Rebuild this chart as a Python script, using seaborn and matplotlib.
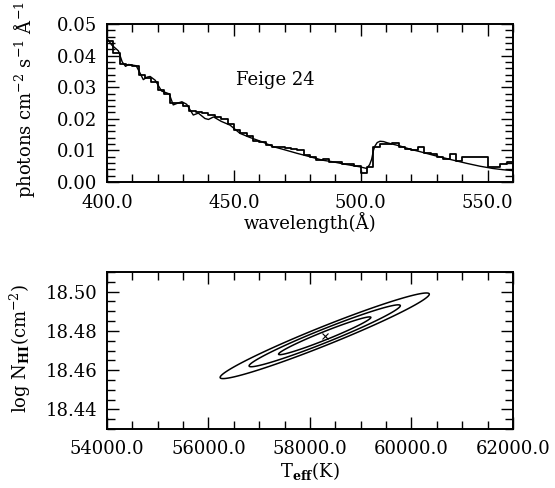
import numpy as np
import pandas as pd
import matplotlib
matplotlib.use("Agg")
import matplotlib.pyplot as plt
from matplotlib.ticker import MultipleLocator, FormatStrFormatter
import seaborn as sns

# ---- Feige 24 EUV spectrum: observed counts binned in 2.5 A steps ----
bin_start = 400.0
bin_width = 2.5
observed_flux = [
    0.0445, 0.0408, 0.0372, 0.0370, 0.0368, 0.0340, 0.0330, 0.0318,
    0.0290, 0.0278, 0.0250, 0.0250, 0.0240, 0.0225, 0.0222, 0.0218,
    0.0212, 0.0205, 0.0200, 0.0185, 0.0165, 0.0155, 0.0146, 0.0130,
    0.0128, 0.0118, 0.0112, 0.0110, 0.0108, 0.0106, 0.0100, 0.0085,
    0.0080, 0.0070, 0.0074, 0.0064, 0.0063, 0.0058, 0.0058, 0.0052,
    0.0030, 0.0047, 0.0112, 0.0120, 0.0120, 0.0122, 0.0112, 0.0105,
    0.0100, 0.0112, 0.0092, 0.0088, 0.0080, 0.0072, 0.0090, 0.0066,
    0.0078, 0.0078, 0.0080, 0.0080, 0.0046, 0.0046, 0.0058, 0.0062,
]

# ---- best-fit model atmosphere spectrum ----
model_wave = [
    400.0, 401.8, 404.5, 406.0, 407.3, 408.5, 411.5, 413.0, 414.3, 415.8,
    417.0, 419.0, 421.5, 424.5, 426.1, 428.0, 429.5, 431.4, 434.0, 436.0,
    438.6, 440.0, 442.0, 445.0, 448.5, 452.4, 456.0, 461.5, 465.5, 470.0,
    474.8, 480.0, 485.0, 489.0, 494.0, 499.7, 502.3, 503.5, 504.3, 505.0,
    505.6, 506.5, 507.6, 509.0, 510.5, 515.5, 519.4, 523.4, 528.5, 535.0,
    541.8, 547.0, 552.0, 556.0, 560.0,
]
model_flux = [
    0.0455, 0.0434, 0.0415, 0.0380, 0.0366, 0.0372, 0.0368, 0.0345, 0.0324, 0.0332,
    0.0334, 0.0322, 0.0288, 0.0279, 0.0244, 0.0250, 0.0254, 0.0246, 0.0212, 0.0218,
    0.0201, 0.0198, 0.0206, 0.0192, 0.0180, 0.0154, 0.0142, 0.0126, 0.0112, 0.0102,
    0.0091, 0.0080, 0.0069, 0.0064, 0.0056, 0.0048, 0.0043, 0.0055, 0.0072, 0.0100,
    0.0114, 0.0125, 0.0129, 0.0128, 0.0124, 0.0114, 0.0104, 0.0096, 0.0085, 0.0072,
    0.0059, 0.0050, 0.0043, 0.0039, 0.0036,
]

# ---- fit result: Teff / log N(HI) confidence region ----
best_teff = 58290.0
best_lognh = 18.4775
sigma_teff = 600.0
sigma_lognh = 0.00635
correlation = 0.972
delta_chi2_levels = [2.30, 6.17, 11.8]

sns.set_theme(style="ticks")
plt.rcParams["font.family"] = ["DejaVu Serif", "DejaVu Sans"]
plt.rcParams["mathtext.fontset"] = "dejavuserif"
plt.rcParams["axes.linewidth"] = 1.4
plt.rcParams["axes.edgecolor"] = "black"
plt.rcParams["text.color"] = "black"
plt.rcParams["axes.labelcolor"] = "black"

FS = 13

fig = plt.figure(figsize=(5.55, 4.88), dpi=100)
ax1 = fig.add_axes([0.1928, 0.627, 0.7315, 0.3238])
ax2 = fig.add_axes([0.1928, 0.1209, 0.7315, 0.3217])

# spectrum panel
edges = bin_start + bin_width * np.arange(len(observed_flux) + 1)
step_df = pd.DataFrame({
    "wavelength": edges,
    "flux": list(observed_flux) + [observed_flux[-1]],
})
sns.lineplot(data=step_df, x="wavelength", y="flux", ax=ax1,
             drawstyle="steps-post", color="black", lw=1.3,
             estimator=None, sort=False)
model_df = pd.DataFrame({"wavelength": model_wave, "flux": model_flux})
sns.lineplot(data=model_df, x="wavelength", y="flux", ax=ax1,
             color="black", lw=1.0, estimator=None, sort=False)
ax1.text(451, 0.0322, "Feige 24", fontsize=FS, ha="left", va="center",
         color="black")

ax1.set_xlim(400, 560)
ax1.set_ylim(0, 0.05)
ax1.xaxis.set_major_locator(MultipleLocator(50))
ax1.xaxis.set_minor_locator(MultipleLocator(10))
ax1.yaxis.set_major_locator(MultipleLocator(0.01))
ax1.yaxis.set_minor_locator(MultipleLocator(0.002))
ax1.xaxis.set_major_formatter(FormatStrFormatter("%.1f"))
ax1.yaxis.set_major_formatter(FormatStrFormatter("%.2f"))
ax1.set_xlabel("wavelength(Å)", fontsize=FS, color="black")
ax1.set_ylabel(r"photons cm$^{-2}$ s$^{-1}$ Å$^{-1}$", fontsize=FS,
               color="black")
ax1.xaxis.set_label_coords(0.5, -0.19)
ax1.yaxis.set_label_coords(-0.172, 0.52)

# confidence contour panel
tt = np.linspace(54000, 62000, 700)
nn = np.linspace(18.43, 18.51, 700)
T, N = np.meshgrid(tt, nn)
zt = (T - best_teff) / sigma_teff
zn = (N - best_lognh) / sigma_lognh
chi2 = (zt**2 - 2 * correlation * zt * zn + zn**2) / (1 - correlation**2)
ax2.contour(T, N, chi2, levels=delta_chi2_levels, colors="black",
            linewidths=1.1)
ax2.plot([best_teff], [best_lognh], marker="x", color="black", ms=4,
         mew=0.8, ls="none")

ax2.set_xlim(54000, 62000)
ax2.set_ylim(18.43, 18.51)
ax2.xaxis.set_major_locator(MultipleLocator(2000))
ax2.xaxis.set_minor_locator(MultipleLocator(500))
ax2.yaxis.set_major_locator(MultipleLocator(0.02))
ax2.yaxis.set_minor_locator(MultipleLocator(0.005))
ax2.xaxis.set_major_formatter(FormatStrFormatter("%.1f"))
ax2.yaxis.set_major_formatter(FormatStrFormatter("%.2f"))
ax2.set_xlabel(r"T$_{\mathbf{eff}}$(K)", fontsize=FS, color="black")
ax2.set_ylabel(r"log N$_{\mathbf{HI}}$(cm$^{-2}$)", fontsize=FS,
               color="black")
ax2.xaxis.set_label_coords(0.5, -0.195)
ax2.yaxis.set_label_coords(-0.182, 0.51)

for ax in (ax1, ax2):
    ax.tick_params(which="both", direction="in", top=True, right=True,
                   colors="black", labelsize=FS, width=1.0)
    ax.tick_params(axis="x", which="both", pad=8.5)
    ax.tick_params(axis="y", which="both", pad=7)
    ax.tick_params(which="major", length=8.5)
    ax.tick_params(which="minor", length=5.5)
    for s in ax.spines.values():
        s.set_visible(True)
        s.set_color("black")
ax2.tick_params(axis="x", which="both", pad=8)

fig.savefig("out.png", dpi=100, facecolor="white")
